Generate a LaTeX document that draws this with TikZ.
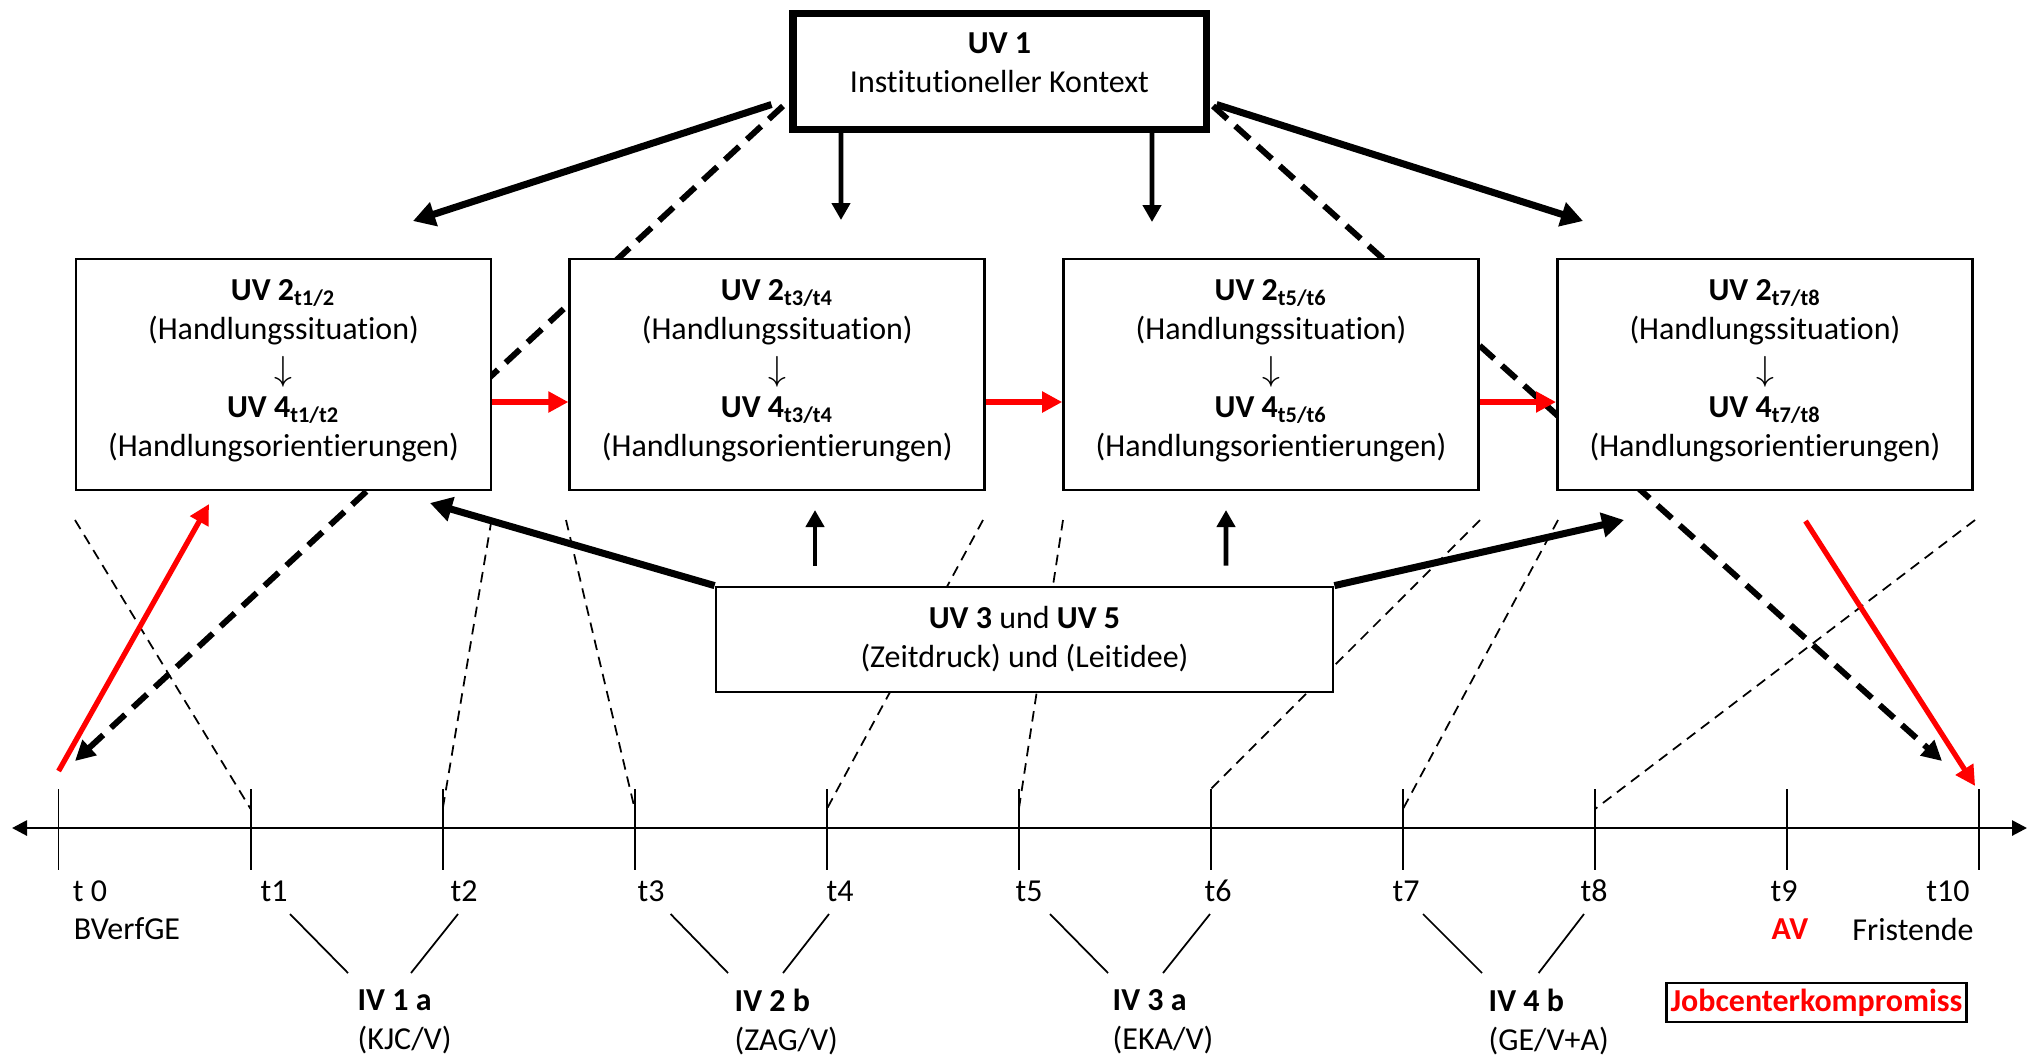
\documentclass[tikz,border=0pt]{standalone}
\usepackage{fontspec}
\setmainfont{Carlito}[Ligatures=NoCommon]
\usetikzlibrary{arrows.meta, positioning, backgrounds, calc}
\definecolor{cred}{HTML}{FF0000}

\newcommand{\uvpair}[2]{\textbf{UV 2\textsubscript{#1}}\\(Handlungssituation)\\\raisebox{-0.6pt}{\scalebox{1.1}{$\downarrow$}}\\\textbf{UV 4\textsubscript{#2}}\\(Handlungsorientierungen)}

\begin{document}
\begin{tikzpicture}[
  x=0.1mm, y=-0.1mm,
  font=\fontsize{9.1}{11.1}\selectfont,
  node distance=7.6mm,
  box/.style={draw, line width=0.8pt, fill=white, align=center,
              minimum width=41.5mm, minimum height=23.1mm, inner sep=0pt},
  sitbox/.style={box, text depth=3.6pt},
  ctxbox/.style={box, line width=2pt, minimum width=41.3mm, minimum height=11.6mm, text depth=1.6mm},
  pressbox/.style={box, minimum width=61.7mm, minimum height=10.5mm},
  jcbox/.style={draw, line width=0.8pt, text=cred, font=\fontsize{9.1}{11.1}\selectfont\bfseries,
                inner sep=1.2pt, minimum height=3.9mm},
  lab/.style={inner sep=0pt},
  thickarr/.style={-{Triangle[length=2.2mm, width=2.4mm]}, line width=2pt},
  downarr/.style={-{Triangle[length=1.7mm, width=1.8mm]}, line width=1.4pt},
  dasharr/.style={-{Triangle[length=2mm, width=2mm]}, line width=1.7pt, dash pattern=on 5.5pt off 3pt},
  redarr/.style={-{Triangle[length=2mm, width=2mm]}, line width=1.5pt, cred},
  guide/.style={line width=0.5pt, dash pattern=on 3pt off 2pt},
  tick/.style={line width=0.5pt},
  axis/.style={{Triangle[length=1.5mm, width=1.5mm]}-{Triangle[length=1.5mm, width=1.5mm]}, line width=0.8pt},
  ]
\useasboundingbox (0,0) rectangle (2042,1060);

\node[ctxbox] (uv1) at (999.5,71) {\textbf{UV 1}\\Institutioneller Kontext};
\node[sitbox] (sit1) at (283.5,374.5) {\uvpair{t1/2}{t1/t2}};
\node[sitbox, right=of sit1] (sit2) {\uvpair{t3/t4}{t3/t4}};
\node[sitbox, right=of sit2] (sit3) {\uvpair{t5/t6}{t5/t6}};
\node[sitbox, right=of sit3] (sit4) {\uvpair{t7/t8}{t7/t8}};
\node[pressbox] (uv3) at (1024.5,639.5) {\textbf{UV 3} und \textbf{UV 5}\\(Zeitdruck) und (Leitidee)};

% time axis
\coordinate (ax0) at (12,828);
\coordinate (ax1) at (2027,828);
\draw[axis] (ax0) -- (ax1);
\foreach \i in {0,...,10} {
  \coordinate (top\i) at ({58.6+192.05*\i},789);
  \coordinate (bot\i) at ({58.6+192.05*\i},870);
  \coordinate (mid\i) at ({58.6+192.05*\i},809);
  \draw[tick] (top\i) -- (bot\i);
}
\foreach \i/\x/\t in {0/90/t 0, 1/274/t1, 2/464/t2, 3/651/t3, 4/840/t4, 5/1029/t5,
                      6/1218/t6, 7/1406/t7, 8/1594/t8, 9/1784/t9, 10/1948/t10}
  \node[lab] (lab\i) at (\x,891) {\t};
\node[lab] (bverf) at (127,929) {BVerfGE};
\node[lab, text=cred, font=\fontsize{9.1}{11.1}\selectfont\bfseries] (av) at (1790,929) {AV};
\node[lab] (frist) at (1913,929) {Fristende};

\node[lab, align=left, anchor=west] (iv1) at (357,1022) {\textbf{IV 1 a}\\(KJC/V)};
\node[lab, align=left, anchor=west] (iv2) at (734,1022) {\textbf{IV 2 b}\\(ZAG/V)};
\node[lab, align=left, anchor=west] (iv3) at (1112,1022) {\textbf{IV 3 a}\\(EKA/V)};
\node[lab, align=left, anchor=west] (iv4) at (1488,1022) {\textbf{IV 4 b}\\(GE/V+A)};
\node[jcbox] (jc) at (1816.5,1002.5) {Jobcenterkompromiss};

\foreach \k/\ia/\ib/\ja/\jb in {1/290/348/458/411, 2/670.6/728/829/783,
                               3/1050/1108/1210/1163, 4/1423/1482/1584/1538.6} {
  \coordinate (ivla\k) at (\ia,914); \coordinate (ivlb\k) at (\ib,973);
  \coordinate (ivra\k) at (\ja,914); \coordinate (ivrb\k) at (\jb,973);
  \draw[tick] (ivla\k) -- (ivlb\k);
  \draw[tick] (ivra\k) -- (ivrb\k);
}

% lines behind the boxes
\coordinate (dashA) at (75,761);
\coordinate (dashD) at (1942,761);
\begin{scope}[on background layer]
  \draw[dasharr] ([shift={(-6.5,-26.5)}]uv1.south west) -- (dashA);
  \draw[dasharr] ([shift={(3.5,-26.5)}]uv1.south east) -- (dashD);
  \foreach \x/\t [count=\k] in {75/mid1, 491.5/mid2, 566/mid3, 983/mid4,
                                1063/mid5, 1480/top6, 1558/mid7, 1975/mid8} {
    \coordinate (g\k) at (\x,520);
    \draw[guide] (g\k) -- (\t);
  }
\end{scope}

\coordinate (toA) at (413,221);
\coordinate (toD) at (1583,221);
\coordinate (toB) at (841,220);
\coordinate (toC) at (1152,222);
\draw[thickarr] ([shift={(-18,-28)}]uv1.south west) -- (toA);
\draw[thickarr] ([shift={(7,-28)}]uv1.south east) -- (toD);
\draw[downarr] ([xshift=-15.85mm]uv1.south) -- (toB);
\draw[downarr] ([xshift=15.25mm]uv1.south) -- (toC);

\foreach \a/\b in {sit1/sit2, sit2/sit3, sit3/sit4}
  \draw[redarr] ([yshift=-2.75mm]\a.east) -- ([yshift=-2.75mm]\b.west);

\coordinate (upA) at (430,503);
\coordinate (upD) at (1624,520);
\coordinate (upB) at (815,510);
\coordinate (upC) at (1226,510);
\draw[thickarr] (uv3.north west) -- (upA);
\draw[thickarr] (uv3.north east) -- (upD);
\draw[downarr] ([shift={(-209.5,-20)}]uv3.north) -- (upB);
\draw[downarr] ([shift={(201.5,-20)}]uv3.north) -- (upC);

\coordinate (redA) at (209,504);
\coordinate (redD) at (1805.5,521);
\draw[redarr] ([shift={(0,-18)}]top0) -- (redA);
\draw[redarr] (redD) -- ([shift={(-4,-3)}]top10);
\end{tikzpicture}
\end{document}
